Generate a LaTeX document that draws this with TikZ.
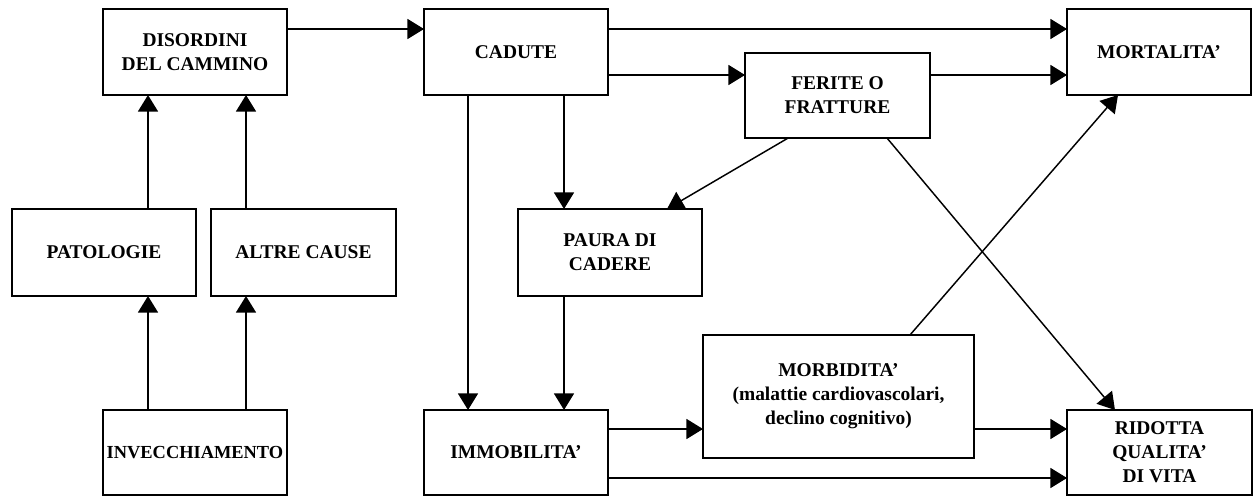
\documentclass[tikz,border=0pt]{standalone}
\usepackage{fontspec}
\setmainfont{Liberation Serif}
\usetikzlibrary{arrows.meta,calc}
\begin{document}
\begin{tikzpicture}[x=0.75pt,y=-0.75pt,
  box/.style={draw, line width=1.4pt, inner sep=0pt, outer sep=0pt, align=center,
    font=\fontsize{14.6}{18}\selectfont\bfseries},
  arr/.style={line width=1.4pt, -{Triangle[length=12.5pt,width=15pt]}},
  darr/.style={line width=1.1pt, -{Triangle[length=12.5pt,width=15pt]}}]
\useasboundingbox (0,0) rectangle (1253,496);
% nodes
\node[box, minimum width=138pt, minimum height=64.5pt] (dis) at (195,52) {DISORDINI\\DEL CAMMINO};
\node[box, minimum width=138pt, minimum height=64.5pt] (cad) at (516,52) {CADUTE};
\node[box, minimum width=138pt, minimum height=64.5pt] (mort) at (1159,52) {MORTALITA’};
\node[box, minimum width=138.75pt, minimum height=63.75pt] (fer) at (837.5,95.5) {FERITE O\\FRATTURE};
\node[box, minimum width=138pt, minimum height=65.25pt] (pat) at (104,252.5) {PATOLOGIE};
\node[box, minimum width=138.75pt, minimum height=65.25pt] (alt) at (303.5,252.5) {ALTRE CAUSE};
\node[box, minimum width=138pt, minimum height=65.25pt] (pau) at (610,252.5) {PAURA DI\\CADERE};
\node[box, minimum width=138pt, minimum height=63.75pt, font=\fontsize{13.8}{18}\selectfont\bfseries] (inv) at (195,452.5) {INVECCHIAMENTO};
\node[box, minimum width=138pt, minimum height=63.75pt] (imm) at (516,452.5) {IMMOBILITA’};
\node[box, minimum width=203.25pt, minimum height=92.25pt] (mor) at (838.5,396.5) {MORBIDITA’\\(malattie cardiovascolari,\\declino cognitivo)};
\node[box, minimum width=138.75pt, minimum height=63.75pt] (rid) at (1159.5,452.5) {RIDOTTA\\QUALITA’\\DI VITA};
% connectors
\coordinate (pL) at ([xshift=-35.25pt]inv.north);
\coordinate (aL) at ([xshift=38.25pt]inv.north);
\draw[arr] (pL) -- (pL |- pat.south);
\draw[arr] (aL) -- (aL |- alt.south);
\draw[arr] (pL |- pat.north) -- (pL |- dis.south);
\draw[arr] (aL |- alt.north) -- (aL |- dis.south);
\draw[arr] ([yshift=-15pt]dis.north east) -- ([yshift=-15pt]cad.north west);
\coordinate (c1) at ([yshift=-15pt]cad.north east);
\draw[arr] (c1) -- (c1 -| mort.west);
\coordinate (c2) at ([yshift=-49.5pt]cad.north east);
\draw[arr] (c2) -- (c2 -| fer.west);
\draw[arr] (c2 -| fer.east) -- (c2 -| mort.west);
\coordinate (c3) at ([xshift=-36pt]cad.south);
\draw[arr] (c3) -- (c3 |- imm.north);
\coordinate (c4) at ([xshift=36pt]cad.south);
\draw[arr] (c4) -- (c4 |- pau.north);
\draw[arr] (c4 |- pau.south) -- (c4 |- imm.north);
\draw[darr] ([xshift=-37pt]fer.south) -- ([xshift=42.75pt]pau.north);
\coordinate (i1) at ([yshift=-14.25pt]imm.north east);
\draw[arr] (i1) -- (i1 -| mor.west);
\draw[arr] (i1 -| mor.east) -- (i1 -| rid.west);
\coordinate (i2) at ([yshift=-51pt]imm.north east);
\draw[arr] (i2) -- (i2 -| rid.west);
\draw[darr] ([xshift=53.6pt]mor.north) -- ([xshift=-30.75pt]mort.south);
\draw[darr] ([xshift=37.1pt]fer.south) -- ([xshift=-33.4pt]rid.north);
\end{tikzpicture}
\end{document}
